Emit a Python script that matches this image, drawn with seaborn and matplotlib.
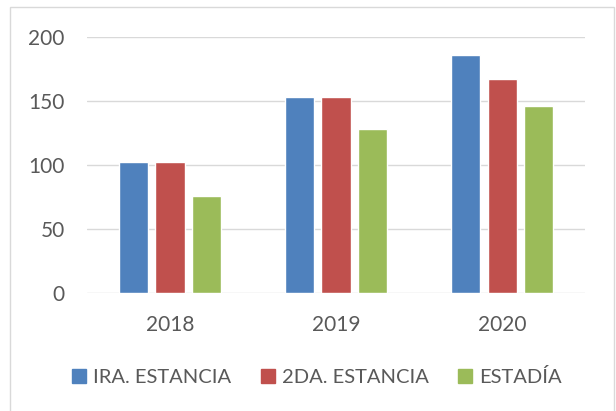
import pandas as pd
import matplotlib.pyplot as plt
import matplotlib.patches as mpatches
import seaborn as sns

# Data
years = ["2018", "2019", "2020"]
series = ["IRA. ESTANCIA", "2DA. ESTANCIA", "ESTADÍA"]
ira_estancia = [102, 153, 186]
dda_estancia = [102, 153, 167]
estadia = [76, 128, 146]
colors = ["#4F81BD", "#C0504D", "#9BBB59"]

df = pd.DataFrame({
    "year": years * 3,
    "serie": [series[0]] * 3 + [series[1]] * 3 + [series[2]] * 3,
    "value": ira_estancia + dda_estancia + estadia,
})

sns.set_style("white")
plt.rcParams["font.family"] = ["Lato", "DejaVu Sans"]
text_color = "#595959"

fig = plt.figure(figsize=(6.16, 4.11), dpi=100)
ax = fig.add_axes([0.141, 0.287, 0.809, 0.623])

sns.barplot(data=df, x="year", y="value", hue="serie", order=years,
            hue_order=series, palette=colors, width=0.66, gap=0.2,
            saturation=1, legend=False, ax=ax, zorder=3)

ax.set_ylim(0, 200)
ax.set_yticks([0, 50, 100, 150, 200])
ax.set_xlabel("")
ax.set_ylabel("")
ax.grid(axis="y", color="#D9D9D9", linewidth=1.0, zorder=0)
ax.grid(axis="x", visible=False)
for s in ax.spines.values():
    s.set_visible(False)
ax.tick_params(axis="both", length=0, labelsize=15, labelcolor=text_color)
ax.tick_params(axis="y", pad=16)
ax.tick_params(axis="x", pad=16)

handles = [mpatches.Patch(color=c, label=s) for c, s in zip(colors, series)]
leg = fig.legend(handles=handles, loc="center", bbox_to_anchor=(317 / 616, 1 - 377 / 411),
                 ncol=3, frameon=False, fontsize=14.5, handlelength=0.7, handleheight=0.7,
                 handletextpad=0.35, columnspacing=1.45)
for t in leg.get_texts():
    t.set_color(text_color)

# chart area border
fig.patches.append(mpatches.Rectangle((10 / 616, -0.02), 604 / 616, 1.02 - 7 / 411,
                                      transform=fig.transFigure, fill=False,
                                      edgecolor="#D9D9D9", linewidth=1.0))

fig.savefig("out.png", dpi=100)
